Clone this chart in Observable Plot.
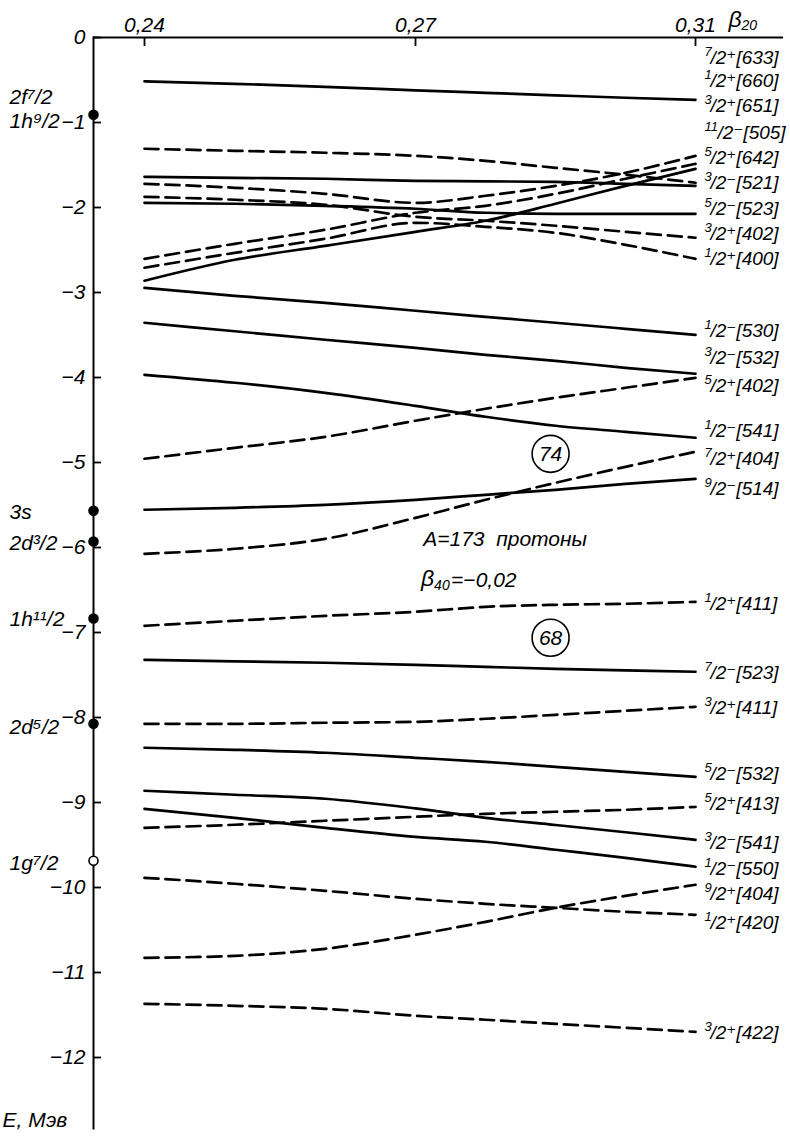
<!DOCTYPE html>
<html><head><meta charset="utf-8">
<script src="https://cdn.jsdelivr.net/npm/d3@7"></script>
<script src="https://cdn.jsdelivr.net/npm/@observablehq/plot@0.6"></script>
<style>body{margin:0;background:#fff} svg{display:block}</style>
</head><body><div id="chart"></div>
<script>
// deformation β20 sample points
const betas = [0.24, 0.25, 0.26, 0.27, 0.28, 0.29, 0.30, 0.31];
const xTicks = [0.24, 0.27, 0.31];
const yTicks = [0, -1, -2, -3, -4, -5, -6, -7, -8, -9, -10, -11, -12];

// single-particle levels E (MeV) at each β20
const top1   = [-0.515, -0.545, -0.580, -0.621, -0.651, -0.680, -0.709, -0.733];
const upA    = [-1.309, -1.333, -1.356, -1.392, -1.451, -1.533, -1.615, -1.709];
const upB    = [-1.639, -1.651, -1.662, -1.686, -1.692, -1.698, -1.721, -1.745];
const upC    = [-1.721, -1.768, -1.839, -1.945, -1.862, -1.745, -1.592, -1.392];
const upD    = [-1.874, -1.909, -1.968, -2.109, -2.156, -2.215, -2.286, -2.356];
const upE    = [-1.945, -1.956, -1.980, -2.015, -2.062, -2.074, -2.074, -2.074];
const upF    = [-2.604, -2.427, -2.262, -2.062, -1.980, -1.839, -1.662, -1.486];
const upG    = [-2.709, -2.533, -2.368, -2.180, -2.227, -2.298, -2.439, -2.604];
const upH    = [-2.862, -2.615, -2.451, -2.286, -2.156, -1.956, -1.745, -1.545];
const l530   = [-2.945, -3.039, -3.121, -3.215, -3.286, -3.356, -3.427, -3.498];
const l532   = [-3.356, -3.456, -3.556, -3.651, -3.733, -3.804, -3.886, -3.956];
const l541   = [-3.968, -4.062, -4.180, -4.333, -4.462, -4.568, -4.639, -4.709];
const l402   = [-4.956, -4.827, -4.698, -4.509, -4.368, -4.239, -4.121, -4.004];
const l514   = [-5.556, -5.533, -5.498, -5.439, -5.380, -5.321, -5.251, -5.192];
const l404   = [-6.074, -6.015, -5.898, -5.651, -5.439, -5.239, -5.051, -4.874];
const l411a  = [-6.921, -6.862, -6.804, -6.756, -6.698, -6.674, -6.662, -6.639];
const l523   = [-7.321, -7.339, -7.356, -7.380, -7.404, -7.427, -7.445, -7.462];
const l411b  = [-8.074, -8.074, -8.062, -8.051, -8.015, -7.968, -7.921, -7.874];
const l532b  = [-8.356, -8.380, -8.415, -8.474, -8.521, -8.580, -8.639, -8.698];
const l541b  = [-8.862, -8.909, -8.956, -9.070, -9.180, -9.265, -9.350, -9.439];
const l550   = [-9.074, -9.180, -9.298, -9.404, -9.462, -9.556, -9.651, -9.756];
const l413   = [-9.298, -9.262, -9.215, -9.168, -9.133, -9.109, -9.086, -9.051];
const l420   = [-9.886, -9.956, -10.039, -10.133, -10.192, -10.239, -10.286, -10.321];
const l404b  = [-10.827, -10.804, -10.721, -10.556, -10.404, -10.239, -10.098, -9.968];
const l422   = [-11.368, -11.392, -11.427, -11.509, -11.556, -11.604, -11.651, -11.698];

const solidCurves  = [top1, upB, upE, upH, l530, l532, l541, l514, l523, l532b, l541b, l550];
const dashedCurves = [upA, upC, upD, upF, upG, l402, l404, l411a, l411b, l413, l420, l404b, l422];

// right-hand Nilsson labels Ω^π[N nz Λ]
const rightText = ["7/2⁺[633]", "1/2⁺[660]", "3/2⁺[651]", "11/2⁻[505]", "5/2⁺[642]", "3/2⁻[521]", "5/2⁻[523]", "3/2⁺[402]", "1/2⁺[400]",
  "1/2⁻[530]", "3/2⁻[532]", "5/2⁺[402]", "1/2⁻[541]", "7/2⁺[404]", "9/2⁻[514]",
  "1/2⁺[411]", "7/2⁻[523]", "3/2⁺[411]", "5/2⁻[532]", "5/2⁺[413]", "3/2⁻[541]",
  "1/2⁻[550]", "9/2⁺[404]", "1/2⁺[420]", "3/2⁺[422]"];
const rightE = [-0.239, -0.509, -0.804, -1.121, -1.415, -1.709, -2.015, -2.309, -2.603,
  -3.451, -3.768, -4.097, -4.627, -4.956, -5.309,
  -6.662, -7.474, -7.886, -8.662, -9.015, -9.474,
  -9.780, -10.074, -10.415, -11.709];

// spherical shell-model levels on the E axis
const shellE      = [-0.909, -5.569, -5.929, -6.835, -8.074, -9.686];
const shellFilled = [true, true, true, true, true, false];
const shellText   = ["2f⁷/2", "1h⁹/2", "3s", "2d³/2", "1h¹¹/2", "2d⁵/2", "1g⁷/2"];
const shellTextE  = [-0.709, -0.98, -5.59, -5.945, -6.84, -8.12, -9.71];

// gaps (circled magic numbers) and annotations
const gapText = ["74", "68"];
const gapB    = [0.2893, 0.2893];
const gapE    = [-4.898, -7.062];
const noteText = "A=173  протоны";
const noteB    = 0.2711;
const noteE    = -5.90;
const beta40Text = "=−0,02";
const beta40B = 0.2708;
const beta40E = -6.39;

const toRows = (curves) => curves.flatMap((c, k) => betas.map((b, i) => ({id: k, b, E: c[i]})));
const solidRows = toRows(solidCurves);
const dashedRows = toRows(dashedCurves);
const rightRows = rightText.map((t, i) => {
  const [num, rest] = t.split("/");
  return {num, rest: "/" + rest, E: rightE[i]};
});
const shellRows = shellE.map((E, i) => ({E, filled: shellFilled[i]}));
const shellLabelRows = shellText.map((t, i) => ({t, E: shellTextE[i]}));
const gapRows = gapText.map((t, i) => ({t, b: gapB[i], E: gapE[i]}));

// the printed β20 axis is unevenly spaced: warp it piecewise through its three ticks
const warp = d3.scaleLinear().domain([0.24, 0.27, 0.31]).range([0, 0.49183, 1]);

const fam = '"Liberation Sans",Arimo,"DejaVu Sans",sans-serif';
const fmtX = d => d.toFixed(2).replace(".", ",");
const fmtY = d => d === 0 ? "0" : "−" + Math.abs(d);
const at = (b, E) => ({x: () => b, y: () => E});

const chart = Plot.plot({
  width: 790, height: 1139,
  marginTop: 37, marginLeft: 93, marginRight: 7, marginBottom: 11,
  style: {fontFamily: fam, fontStyle: "italic", background: "white", color: "black"},
  x: {transform: warp, domain: [0, 1], range: [144, 695], label: null},
  y: {domain: [0, -12], range: [37, 1057], label: null},
  marks: [
    Plot.frame({anchor: "left", strokeWidth: 2}),
    Plot.ruleY([0], {strokeWidth: 2.2}),
    Plot.axisY(yTicks, {anchor: "left", tickSize: -8, fill: "none", strokeWidth: 1.8, label: null}),
    Plot.axisY(yTicks, {anchor: "left", tickSize: 0, tickPadding: 8, tickFormat: fmtY, fontSize: 21, fontStyle: "italic", label: null}),
    Plot.axisX(xTicks, {anchor: "top", tickSize: -8, fill: "none", strokeWidth: 1.8, label: null}),
    Plot.axisX(xTicks, {anchor: "top", tickSize: 0, tickPadding: 6, tickFormat: fmtX, fontSize: 21, fontStyle: "italic", label: null}),
    Plot.text(["β"], {...at(0.31, 0), dx: 33, dy: -18, textAnchor: "start", fontSize: 23}),
    Plot.text(["20"], {...at(0.31, 0), dx: 46, dy: -12, textAnchor: "start", fontSize: 14}),
    Plot.line(solidRows, {x: "b", y: "E", z: "id", stroke: "black", strokeWidth: 2.7, curve: "monotone-x"}),
    Plot.line(dashedRows, {x: "b", y: "E", z: "id", stroke: "black", strokeWidth: 2.7, strokeDasharray: "14,7", curve: "monotone-x"}),
    Plot.text(rightRows, {x: () => 0.31, y: "E", text: "num", dx: 9, dy: -6, textAnchor: "start", fontSize: 13}),
    Plot.text(rightRows.filter(d => d.num.length === 1), {x: () => 0.31, y: "E", text: "rest", dx: 15, textAnchor: "start", fontSize: 19}),
    Plot.text(rightRows.filter(d => d.num.length === 2), {x: () => 0.31, y: "E", text: "rest", dx: 22, textAnchor: "start", fontSize: 19}),
    Plot.dot(shellRows, {y: "E", frameAnchor: "left", r: 4.5, fill: d => d.filled ? "black" : "white", stroke: "black", strokeWidth: 1.6}),
    Plot.text(shellLabelRows, {y: "E", text: "t", frameAnchor: "left", dx: -84, textAnchor: "start", fontSize: 21}),
    Plot.dot(gapRows, {x: "b", y: "E", r: 18.5, stroke: "black", strokeWidth: 1.6, fill: "none"}),
    Plot.text(gapRows, {x: "b", y: "E", text: "t", fontSize: 21}),
    Plot.text([noteText], {...at(noteB, noteE), textAnchor: "start", fontSize: 21}),
    Plot.text(["β"], {...at(beta40B, beta40E), dy: -2, textAnchor: "start", fontSize: 23}),
    Plot.text(["40"], {...at(beta40B, beta40E), dx: 13, dy: 5, textAnchor: "start", fontSize: 14}),
    Plot.text([beta40Text], {...at(beta40B, beta40E), dx: 30, textAnchor: "start", fontSize: 21}),
    Plot.text(["E, Мэв"], {frameAnchor: "bottom-left", dx: -91, dy: -2, textAnchor: "start", fontSize: 21})
  ]
});
document.getElementById("chart").append(chart);
</script></body></html>
